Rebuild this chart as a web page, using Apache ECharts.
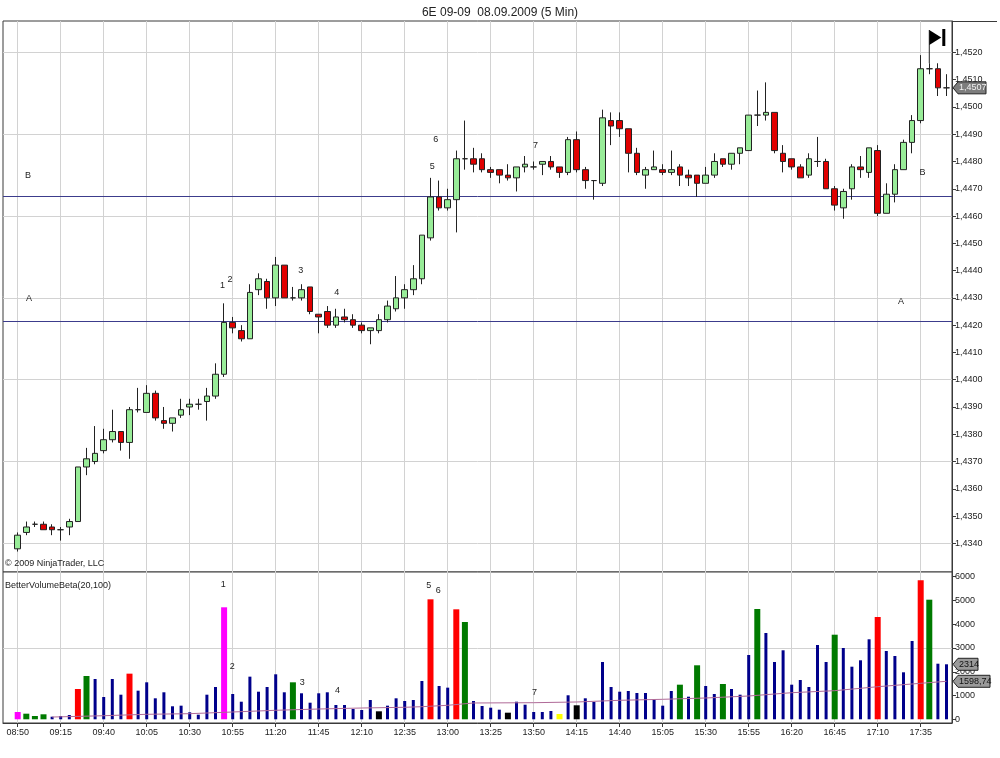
<!DOCTYPE html>
<html><head><meta charset="utf-8">
<script src="https://cdn.jsdelivr.net/npm/echarts@6/dist/echarts.min.js"></script>
<style>html,body{margin:0;padding:0;background:#fff}#c{width:1000px;height:758px}</style>
</head><body><div id="c"></div>
<script>
// ---------- DATA ----------
const chartTitle = '6E 09-09  08.09.2009 (5 Min)';
const timeTickBars = [0,5,10,15,20,25,30,35,40,45,50,55,60,65,70,75,80,85,90,95,100,105];
const timeTickLabels = ['08:50','09:15','09:40','10:05','10:30','10:55','11:20','11:45','12:10','12:35','13:00','13:25','13:50','14:15','14:40','15:05','15:30','15:55','16:20','16:45','17:10','17:35'];
const priceTickValues = [1.434,1.435,1.436,1.437,1.438,1.439,1.440,1.441,1.442,1.443,1.444,1.445,1.446,1.447,1.448,1.449,1.450,1.451,1.452];
const priceGridValues = [1.434,1.437,1.440,1.443,1.446,1.449,1.452];
const volTickValues = [0,1000,2000,3000,4000,5000,6000];
const volGridValues = [3000];

const opens  = [1.4338,1.4344,1.4347,1.4347,1.4346,1.4345,1.4346,1.4348,1.4368,1.4370,1.4374,1.4378,1.4381,1.4377,1.4389,1.4388,1.4395,1.4385,1.4384,1.4387,1.4390,1.4391,1.4392,1.4394,1.4402,1.4421,1.4418,1.4415,1.4433,1.4436,1.4430,1.4442,1.4430,1.4430,1.4434,1.4424,1.4425,1.4420,1.4423,1.4422,1.4420,1.4418,1.4418,1.4422,1.4426,1.4430,1.4433,1.4437,1.4452,1.4467,1.4463,1.4466,1.4481,1.4481,1.4481,1.4477,1.4477,1.4475,1.4474,1.4478,1.4478,1.4479,1.4480,1.4478,1.4476,1.4488,1.4477,1.4473,1.4472,1.4495,1.4495,1.4492,1.4483,1.4475,1.4477,1.4477,1.4476,1.4478,1.4475,1.4475,1.4472,1.4475,1.4481,1.4479,1.4483,1.4484,1.4497,1.4497,1.4498,1.4483,1.4481,1.4478,1.4475,1.4480,1.4480,1.4470,1.4463,1.4470,1.4478,1.4476,1.4484,1.4461,1.4468,1.4477,1.4487,1.4495,1.4514,1.4514,1.4507];
const highs  = [1.4344,1.4348,1.4348,1.4348,1.4347,1.4346,1.4349,1.4368,1.4375,1.4383,1.4382,1.4389,1.4381,1.4390,1.4397,1.4398,1.4396,1.4390,1.4386,1.4393,1.4393,1.4393,1.4397,1.4406,1.4428,1.4423,1.4420,1.4435,1.4439,1.4437,1.4445,1.4442,1.4434,1.4435,1.4434,1.4424,1.4427,1.4426,1.4426,1.4424,1.4421,1.4419,1.4424,1.4429,1.4438,1.4435,1.4442,1.4453,1.4474,1.4473,1.4470,1.4484,1.4495,1.4485,1.4483,1.4478,1.4477,1.4479,1.4478,1.4482,1.4480,1.4480,1.4482,1.4478,1.4489,1.4491,1.4478,1.4473,1.4499,1.4498,1.4498,1.4492,1.4485,1.4478,1.4484,1.4479,1.4484,1.4479,1.4477,1.4475,1.4478,1.4483,1.4481,1.4483,1.4485,1.4497,1.4506,1.4509,1.4498,1.4486,1.4481,1.4479,1.4483,1.4489,1.4481,1.4471,1.4470,1.4479,1.4482,1.4485,1.4486,1.4472,1.4479,1.4488,1.4497,1.4519,1.4516,1.4516,1.4512];
const lows   = [1.4337,1.4343,1.4346,1.4345,1.4343,1.4341,1.4343,1.4348,1.4365,1.4369,1.4373,1.4377,1.4374,1.4371,1.4388,1.4388,1.4385,1.4382,1.4381,1.4386,1.4387,1.4389,1.4385,1.4393,1.4401,1.4417,1.4414,1.4415,1.4431,1.4426,1.4427,1.4430,1.4429,1.4429,1.4424,1.4417,1.4419,1.4419,1.4421,1.4419,1.4417,1.4413,1.4417,1.4421,1.4425,1.4426,1.4431,1.4435,1.4451,1.4462,1.4462,1.4454,1.4477,1.4476,1.4476,1.4474,1.4472,1.4473,1.4469,1.4476,1.4477,1.4475,1.4477,1.4474,1.4475,1.4476,1.4470,1.4466,1.4471,1.4486,1.4489,1.4476,1.4475,1.4470,1.4477,1.4475,1.4475,1.4471,1.4471,1.4467,1.4472,1.4474,1.4478,1.4477,1.4479,1.4484,1.4493,1.4495,1.4483,1.4476,1.4477,1.4474,1.4474,1.4478,1.4470,1.4462,1.4459,1.4466,1.4474,1.4474,1.4460,1.4461,1.4465,1.4477,1.4483,1.4494,1.4512,1.4504,1.4504];
const closes = [1.4343,1.4346,1.4347,1.4345,1.4345,1.4345,1.4348,1.4368,1.4371,1.4373,1.4378,1.4381,1.4377,1.4389,1.4389,1.4395,1.4386,1.4384,1.4386,1.4389,1.4391,1.4391,1.4394,1.4402,1.4421,1.4419,1.4415,1.4432,1.4437,1.4430,1.4442,1.4430,1.4430,1.4433,1.4425,1.4423,1.4420,1.4423,1.4422,1.4420,1.4418,1.4419,1.4422,1.4427,1.4430,1.4433,1.4437,1.4453,1.4467,1.4463,1.4466,1.4481,1.4481,1.4479,1.4477,1.4476,1.4475,1.4474,1.4478,1.4479,1.4478,1.4480,1.4478,1.4476,1.4488,1.4477,1.4473,1.4473,1.4496,1.4493,1.4492,1.4483,1.4476,1.4477,1.4478,1.4476,1.4477,1.4475,1.4474,1.4472,1.4475,1.4480,1.4479,1.4483,1.4485,1.4497,1.4497,1.4498,1.4484,1.4480,1.4478,1.4474,1.4481,1.4480,1.4470,1.4464,1.4469,1.4478,1.4477,1.4485,1.4461,1.4468,1.4477,1.4487,1.4495,1.4514,1.4514,1.4507,1.4507];

const volumes = [307,236,139,210,109,139,181,1275,1822,1695,938,1695,1035,1920,1204,1556,883,1136,547,573,294,194,1035,1359,4712,1064,740,1794,1161,1359,1893,1136,1556,1094,698,1094,1136,602,602,433,391,812,336,573,883,770,812,1611,5048,1401,1331,4627,4093,770,560,488,404,278,740,614,307,307,349,223,1010,589,883,728,2411,1359,1161,1191,1106,1106,825,573,1191,1456,951,2272,1401,1064,1485,1275,1035,2705,4640,3631,2411,2903,1456,1653,1359,3126,2411,3559,3000,2213,2482,3366,4304,2873,2663,1977,3294,5848,5032,2339,2314];
// volume bar class: B normal, R climax, G churn, M low-vol start, K low volume, Y low-vol churn
const volClass = [
 'M','G','G','G','B','B','B','R','G','B', 'B','B','B','R','B','B','B','B','B','B',
 'B','B','B','B','M','B','B','B','B','B', 'B','B','G','B','B','B','B','B','B','B',
 'B','B','K','B','B','B','B','B','R','B', 'B','R','G','B','B','B','B','K','B','B',
 'B','B','B','Y','B','K','B','B','B','B', 'B','B','B','B','B','B','B','G','B','G',
 'B','B','G','B','B','B','G','B','B','B', 'B','B','B','B','B','G','B','B','B','B',
 'R','B','B','B','B','R','G','B','B'];
const volAvgBars   = [4,10,15,20,25,30,35,40,45,47,50,53,60,65,70,75,80,85,88,90,95,100,105,108];
const volAvgValues = [95,151,210,236,307,379,433,475,505,530,589,686,698,728,799,841,896,980,1064,1119,1204,1371,1514,1598.74];

const levelB = 1.44674, levelA = 1.44214;
const priceNoteText  = ['1','2','3','4','5','6','7','B','B','A','A'];
const priceNoteBar   = [23.8,24.7,32.9,37.1,48.2,48.6,60.2,1.2,105.2,1.3,102.7];
const priceNoteValue = [1.44347,1.44369,1.44402,1.44321,1.44783,1.44879,1.44857,1.44747,1.44758,1.44296,1.44285];
const volNoteText  = ['1','2','3','4','5','6','7'];
const volNoteBar   = [23.9,24.95,33.1,37.2,47.8,48.9,60.1];
const volNoteValue = [5650,2213,1540,1203,5608,5410,1136];

// ---------- CHART ----------
const FONT = '"Liberation Sans", Arial, sans-serif';
const gridColor = '#d2d2d2';
const classColor = {B:'#00008b', R:'#ff0000', G:'#007a00', M:'#ff00ff', K:'#000000', Y:'#ffff00'};
const xMin = -1.71, xMax = 108.64;
const priceMin = 1.43295, priceMax = 1.45315;
const volMin = -156, volMax = 6197;
const GT = 21, GSPLIT = 572, GB = 723, GL = 3, GR = 952;

const candleData = opens.map((o, i) => [i, o, closes[i], lows[i], highs[i]]);
const blueData = [], colorData = [];
volumes.forEach((v, i) => {
  if (volClass[i] === 'B') blueData.push([i, v]);
  else colorData.push({value: [i, v], itemStyle: {color: classColor[volClass[i]]}});
});
const maData = volAvgBars.map((b, k) => [b, volAvgValues[k]]);

const fmtPrice = v => v.toFixed(4).replace('.', ',');
const xBase = {type: 'value', min: xMin, max: xMax};
const gridLineStyle = {color: gridColor, type: 'solid', width: 1};

const chart = echarts.init(document.getElementById('c'));
chart.setOption({
  animation: false,
  backgroundColor: '#fff',
  title: {text: chartTitle, left: 'center', top: 2, textStyle: {fontSize: 12, fontWeight: 'normal', color: '#222', fontFamily: FONT}},
  grid: [
    {left: GL, width: GR - GL, top: GT, height: GSPLIT - GT, show: true, borderColor: '#3a3a3a', borderWidth: 1, backgroundColor: '#fff'},
    {left: GL, width: GR - GL, top: GSPLIT, height: GB - GSPLIT, show: true, borderColor: '#3a3a3a', borderWidth: 1, backgroundColor: '#fff'}
  ],
  xAxis: [
    Object.assign({}, xBase, {gridIndex: 0, axisLine: {show: false, onZero: false}, axisLabel: {show: false},
      axisTick: {show: false, customValues: timeTickBars}, splitLine: {show: true, lineStyle: gridLineStyle}}),
    Object.assign({}, xBase, {gridIndex: 1, axisLine: {show: true, onZero: false, lineStyle: {color: '#3a3a3a'}},
      axisTick: {show: true, length: 4, customValues: timeTickBars, lineStyle: {color: '#3a3a3a'}},
      axisLabel: {customValues: timeTickBars, formatter: v => timeTickLabels[timeTickBars.indexOf(Math.round(v))] || '',
        fontSize: 9, fontFamily: FONT, color: '#222', margin: 5},
      splitLine: {show: true, lineStyle: gridLineStyle}}),
    Object.assign({}, xBase, {gridIndex: 1, show: false, axisLine: {onZero: false}})
  ],
  yAxis: [
    {gridIndex: 0, type: 'value', position: 'right', min: priceMin, max: priceMax,
      axisLine: {show: true, onZero: false, lineStyle: {color: '#3a3a3a'}},
      axisTick: {show: true, length: 4, customValues: priceTickValues, lineStyle: {color: '#3a3a3a'}},
      axisLabel: {customValues: priceTickValues, formatter: fmtPrice, fontSize: 9, fontFamily: FONT, color: '#222', margin: 3},
      splitLine: {show: false}},
    {gridIndex: 1, type: 'value', position: 'right', min: volMin, max: volMax,
      axisLine: {show: true, onZero: false, lineStyle: {color: '#3a3a3a'}},
      axisTick: {show: true, length: 4, customValues: volTickValues, lineStyle: {color: '#3a3a3a'}},
      axisLabel: {customValues: volTickValues, formatter: v => String(v), fontSize: 9, fontFamily: FONT, color: '#222', margin: 3},
      splitLine: {show: false}}
  ],
  series: [
    {type: 'candlestick', xAxisIndex: 0, yAxisIndex: 0, data: candleData, barWidth: 6, z: 3,
      itemStyle: {color: '#98ec98', color0: '#e00000', borderColor: '#222', borderColor0: '#222', borderWidth: 1},
      markLine: {silent: true, symbol: 'none', precision: 6, label: {show: false}, z: 2,
        lineStyle: {color: '#3c3c8c', type: 'solid', width: 1},
        data: [{yAxis: levelB}, {yAxis: levelA}]}},
    {type: 'bar', xAxisIndex: 1, yAxisIndex: 1, data: blueData, barWidth: 3, itemStyle: {color: classColor.B}},
    {type: 'bar', xAxisIndex: 2, yAxisIndex: 1, data: colorData, barWidth: 6},
    {type: 'line', xAxisIndex: 1, yAxisIndex: 1, data: maData, symbol: 'none', z: 5,
      lineStyle: {color: '#b06a98', width: 1}},
    // horizontal grid lines (drawn behind marks)
    {type: 'line', xAxisIndex: 0, yAxisIndex: 0, data: [], z: 1, silent: true,
      markLine: {silent: true, symbol: 'none', precision: 6, label: {show: false}, z: 1,
        lineStyle: gridLineStyle, data: priceGridValues.map(v => ({yAxis: v}))}},
    {type: 'line', xAxisIndex: 1, yAxisIndex: 1, data: [], z: 1, silent: true,
      markLine: {silent: true, symbol: 'none', precision: 6, label: {show: false}, z: 1,
        lineStyle: gridLineStyle, data: volGridValues.map(v => ({yAxis: v}))}}
  ]
});

// ---------- overlays positioned through the chart's scales ----------
const P = (i, p) => chart.convertToPixel({seriesIndex: 0}, [i, p]);
const V = (i, v) => chart.convertToPixel({seriesIndex: 1}, [i, v]);
const g = [];
const txt = (x, y, s, size, align, color) => g.push({type: 'text', z: 50, style: {x: x, y: y, text: s,
  font: size + 'px ' + FONT, fill: color || '#222', align: align || 'center', verticalAlign: 'middle'}});

priceNoteText.forEach((s, k) => { const p = P(priceNoteBar[k], priceNoteValue[k]); txt(p[0], p[1], s, 9); });
volNoteText.forEach((s, k) => { const p = V(volNoteBar[k], volNoteValue[k]); txt(p[0], p[1], s, 9); });
txt(GL + 2, GSPLIT - 8, '\u00A9 2009 NinjaTrader, LLC', 9, 'left', '#222');
txt(GL + 2, GSPLIT + 14, 'BetterVolumeBeta(20,100)', 9, 'left', '#222');

// top frame line extension
g.push({type: 'line', z: 50, shape: {x1: GR, y1: GT + 0.5, x2: 997, y2: GT + 0.5}, style: {stroke: '#3a3a3a', lineWidth: 1}});

// tags
function tag(y, label, w, fill, tcol) {
  const x0 = GR + 1;
  g.push({type: 'polygon', z: 50, shape: {points: [[x0, y], [x0 + 5, y - 6], [x0 + 5 + w, y - 6], [x0 + 5 + w, y + 6], [x0 + 5, y + 6]]},
    style: {fill: fill, stroke: '#222', lineWidth: 1}});
  txt(x0 + 6, y, label, 9, 'left', tcol);
}
const last = opens.length - 1;
tag(P(last, closes[last])[1], fmtPrice(closes[last]), 28, '#7d7d7d', '#f2f2f2');
tag(V(last, volumes[last])[1], String(volumes[last]), 20, '#9a9a9a', '#111');
const lastAvg = volAvgValues[volAvgValues.length - 1];
tag(V(last, lastAvg)[1], lastAvg.toFixed(2).replace('.', ','), 32, '#9a9a9a', '#111');

// current-bar flag
const fb = P(last - 2, highs[last - 2]);
const fx = fb[0], fTop = GT + 9;
g.push({type: 'line', z: 50, shape: {x1: fx, y1: fTop, x2: fx, y2: fb[1]}, style: {stroke: '#222', lineWidth: 1}});
g.push({type: 'polygon', z: 50, shape: {points: [[fx, fTop], [fx + 12, fTop + 7.5], [fx, fTop + 15]]}, style: {fill: '#000'}});
g.push({type: 'rect', z: 50, shape: {x: fx + 13, y: fTop - 1, width: 3, height: 17}, style: {fill: '#000'}});

chart.setOption({graphic: {elements: g}});
</script>
</body></html>
